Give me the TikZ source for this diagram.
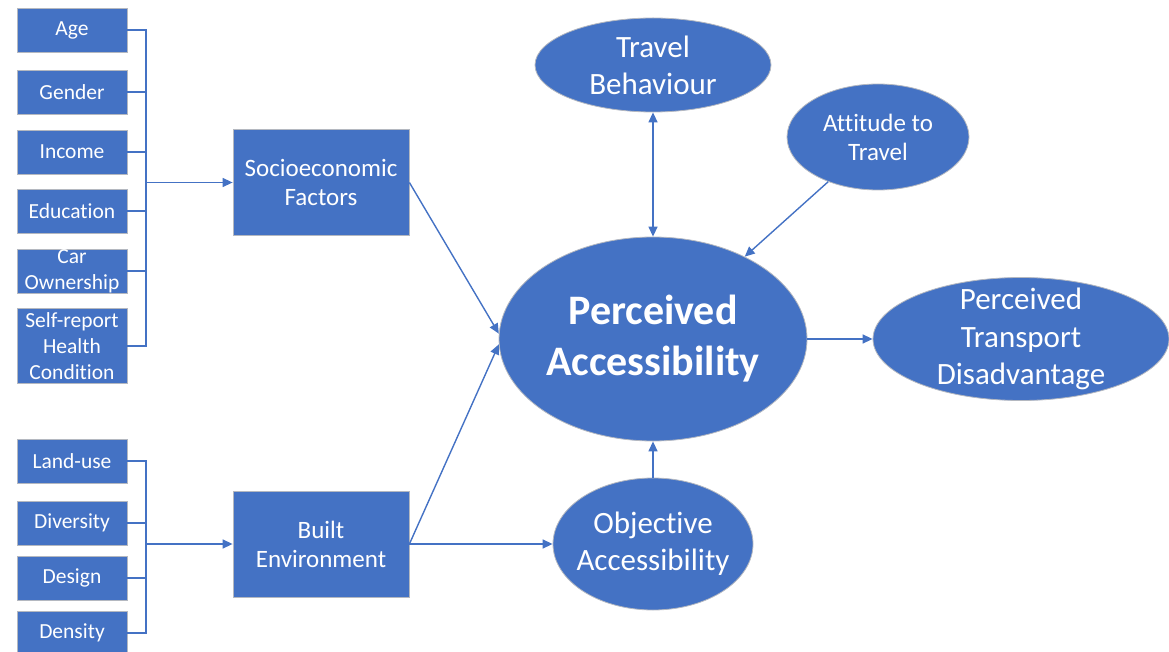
\documentclass[tikz,border=0pt]{standalone}
\usepackage{fontspec}
\setmainfont{Carlito}[Ligatures={NoCommon}]
\usetikzlibrary{shapes.geometric,arrows.meta}
\definecolor{boxblue}{HTML}{4472C4}
\definecolor{edgegrey}{HTML}{B4B8C0}
\tikzset{
  factor/.style={rectangle,draw=edgegrey,line width=0.8pt,fill=boxblue,text=white,
    minimum width=110pt,minimum height=44pt,inner sep=0pt,align=center,
    font=\fontsize{21.5}{26}\selectfont},
  group/.style={rectangle,draw=edgegrey,line width=0.8pt,fill=boxblue,text=white,
    minimum width=176pt,minimum height=106pt,inner sep=0pt,align=center,
    font=\fontsize{25}{29}\selectfont},
  concept/.style={ellipse,draw=edgegrey,line width=0.8pt,fill=boxblue,text=white,
    inner sep=0pt,align=center},
  link/.style={draw=boxblue,line width=1.4pt},
  arrow/.style={link,-{Triangle[length=10pt,width=9pt]}},
  twoway/.style={link,{Triangle[length=10pt,width=9pt]}-{Triangle[length=10pt,width=9pt]}}
}
\begin{document}
\begin{tikzpicture}[x=1pt,y=-1pt]
\useasboundingbox (0,0) rectangle (1169,652);

% socioeconomic indicators
\node[factor] (age)  at (72,30)  {Age};
\node[factor] (gen)  at (72,92)  {Gender};
\node[factor] (inc)  at (72,152) {Income};
\node[factor] (edu)  at (72,211) {Education};
\node[factor,minimum height=44pt] (car) at (72,271) {Car\\Ownership};
\node[factor,minimum height=75pt] (hlth) at (72,346) {Self-report\\Health\\Condition};

% built environment indicators
\node[factor] (land) at (72,461) {Land-use};
\node[factor] (div)  at (72,523) {Diversity};
\node[factor] (des)  at (72,578) {Design};
\node[factor] (den)  at (72,633) {Density};

% grouped constructs
\node[group] (soc) at (321,182.5) {Socioeconomic\\Factors};
\node[group] (blt) at (321,544) {Built\\Environment};

% latent constructs
\node[concept,minimum width=308pt,minimum height=204pt,
      font=\bfseries\fontsize{42}{51}\selectfont] (pa) at (653,339) {Perceived\\Accessibility};
\node[concept,minimum width=236pt,minimum height=94pt,
      font=\fontsize{31}{37}\selectfont] (tb) at (653,65) {Travel\\Behaviour};
\node[concept,minimum width=182pt,minimum height=106pt,
      font=\fontsize{25}{29}\selectfont] (att) at (878,137) {Attitude to\\Travel};
\node[concept,minimum width=296pt,minimum height=123pt,inner ysep=-7.5pt,
      font=\fontsize{31}{37.5}\selectfont] (ptd) at (1021,339) {Perceived\\Transport\\Disadvantage};
\node[concept,minimum width=200pt,minimum height=132pt,inner xsep=-6pt,
      font=\fontsize{31}{37}\selectfont] (oa) at (653,544) {Objective\\Accessibility};

% junctions of the brackets
\coordinate (jsoc) at (146,182.5);
\coordinate (jblt) at (146,544);

\foreach \n in {age,gen,inc,edu,car,hlth}
  \draw[link] (\n.east) -| (jsoc);
\foreach \n in {land,div,des,den}
  \draw[link] (\n.east) -| (jblt);

\draw[arrow] (jsoc) -- (soc.west);
\draw[arrow] (jblt) -- (blt.west);

\draw[arrow] (soc.east) -- (pa.178);
\draw[arrow] (blt.east) -- (pa.182);
\draw[arrow] (blt.east) -- (oa.west);
\draw[arrow] (oa) -- (pa);
\draw[twoway] (tb) -- (pa);
\draw[arrow] (att) -- (pa);
\draw[arrow] (pa) -- (ptd);
\end{tikzpicture}
\end{document}
